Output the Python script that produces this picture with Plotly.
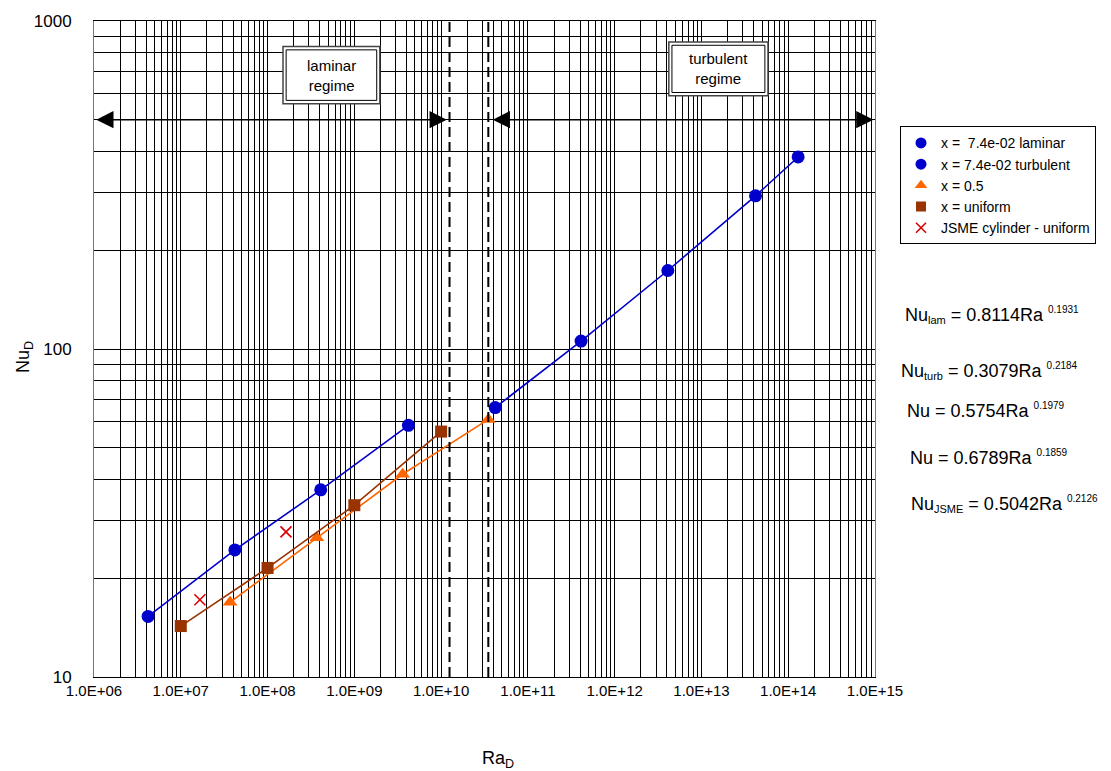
import numpy as np
import plotly.graph_objects as go

# Measured Nusselt numbers vs Rayleigh number
ra_lam = [4.2e6, 4.2e7, 4.1e8, 4.2e9]
nu_lam = [15.3, 24.4, 37.2, 58.5]
ra_turb = [4.2e10, 4.1e11, 4.1e12, 4.2e13, 1.3e14]
nu_turb = [66.3, 105.7, 173.5, 293.0, 385.0]
ra_half = [3.7e7, 3.7e8, 3.6e9, 3.5e10]
nu_half = [16.9, 26.6, 41.5, 61.0]
ra_unif = [1.0e7, 1.0e8, 1.0e9, 1.0e10]
nu_unif = [14.3, 21.5, 33.4, 56.0]
ra_jsme = [1.66e7, 1.63e8]
nu_jsme = [17.2, 27.7]

# Regime boundaries and arrow level
ra_laminar_limit = 1.25e10
ra_turbulent_start = 3.5e10
nu_arrow = 500

x_tick_vals = [1e6, 1e7, 1e8, 1e9, 1e10, 1e11, 1e12, 1e13, 1e14, 1e15]
x_tick_text = ["1.0E+06", "1.0E+07", "1.0E+08", "1.0E+09", "1.0E+10",
               "1.0E+11", "1.0E+12", "1.0E+13", "1.0E+14", "1.0E+15"]
y_tick_vals = [10, 100, 1000]
y_tick_text = ["10", "100", "1000"]

correlations = [
    "Nu<sub><span style='font-size:11px'>lam</span></sub> = 0.8114Ra <sup><span style='font-size:10px'>0.1931</span></sup>",
    "Nu<sub><span style='font-size:11px'>turb</span></sub> = 0.3079Ra <sup><span style='font-size:10px'>0.2184</span></sup>",
    "Nu = 0.5754Ra <sup><span style='font-size:10px'>0.1979</span></sup>",
    "Nu = 0.6789Ra <sup><span style='font-size:10px'>0.1859</span></sup>",
    "Nu<sub><span style='font-size:11px'>JSME</span></sub> = 0.5042Ra <sup><span style='font-size:10px'>0.2126</span></sup>",
]

BLUE = "#0000CC"
ORANGE = "#FF6600"
BROWN = "#993300"
RED = "#DD0000"
FONT = "Liberation Sans, Arial, sans-serif"

fig = go.Figure()

# Data series (lines + markers), legend drawn by marker-only entries below
series = [
    (ra_lam, nu_lam, BLUE, "circle", 13),
    (ra_turb, nu_turb, BLUE, "circle", 13),
    (ra_half, nu_half, ORANGE, "triangle-up", 13),
    (ra_unif, nu_unif, BROWN, "square", 12),
]
for xs, ys, col, sym, sz in series:
    fig.add_trace(go.Scatter(x=xs, y=ys, mode="lines+markers",
                             line=dict(color=col, width=1.6),
                             marker=dict(color=col, symbol=sym, size=sz),
                             showlegend=False, hoverinfo="skip"))
fig.add_trace(go.Scatter(x=ra_jsme, y=nu_jsme, mode="markers",
                         marker=dict(color=RED, symbol="x-thin", size=11,
                                     line=dict(color=RED, width=1.6)),
                         showlegend=False))

legend_entries = [
    ("x =  7.4e-02 laminar", BLUE, "circle", 11, None),
    ("x = 7.4e-02 turbulent", BLUE, "circle", 11, None),
    ("x = 0.5", ORANGE, "triangle-up", 11, None),
    ("x = uniform", BROWN, "square", 10, None),
    ("JSME cylinder - uniform", RED, "x-thin", 10, dict(color=RED, width=1.6)),
]
for name, col, sym, sz, ln in legend_entries:
    mk = dict(color=col, symbol=sym, size=sz)
    if ln:
        mk["line"] = ln
    fig.add_trace(go.Scatter(x=[None], y=[None], mode="markers", name=name,
                             marker=mk, showlegend=True))

# Regime boundary lines
for xb in [ra_laminar_limit, ra_turbulent_start]:
    fig.add_trace(go.Scatter(x=[xb, xb], y=[10, 1000], mode="lines",
                             line=dict(color="black", width=2, dash="10px,5px"),
                             showlegend=False, hoverinfo="skip"))

# Double-headed regime arrows
arrow_spans = [(1.02e6, ra_laminar_limit * 0.93), (ra_turbulent_start * 1.08, 0.96e15)]
for x0, x1 in arrow_spans:
    fig.add_annotation(x=np.log10(x1), y=np.log10(nu_arrow), ax=np.log10(x0), ay=np.log10(nu_arrow),
                       xref="x", yref="y", axref="x", ayref="y", text="",
                       showarrow=True, arrowhead=2, arrowside="end+start",
                       arrowsize=2.3, arrowwidth=1.5, arrowcolor="black")

# Regime label boxes (double frame)
boxes = [((0.242, 0.366), (0.874, 0.961), "laminar<br>regime"),
         ((0.736, 0.863), (0.886, 0.968), "turbulent<br>regime")]
for (bx0, bx1), (by0, by1), label in boxes:
    fig.add_shape(type="rect", xref="paper", yref="paper", x0=bx0, x1=bx1, y0=by0, y1=by1,
                  line=dict(color="#444", width=1.5), fillcolor="white", layer="above")
    fig.add_shape(type="rect", xref="paper", yref="paper",
                  x0=bx0 + 0.004, x1=bx1 - 0.004, y0=by0 + 0.005, y1=by1 - 0.005,
                  line=dict(color="black", width=1), fillcolor="white", layer="above")
    fig.add_annotation(xref="paper", yref="paper", x=(bx0 + bx1) / 2, y=(by0 + by1) / 2,
                       xanchor="center", yanchor="middle",
                       text=label, showarrow=False, font=dict(size=15, color="black", family=FONT))

# Correlation labels
corr_pos = [(903, 313), (899, 369), (905, 409), (908, 456), (909, 503)]
for txt, (px, py) in zip(correlations, corr_pos):
    fig.add_annotation(xref="paper", yref="paper", x=(px - 94) / 781, y=(677 - py) / 660,
                       xanchor="left", yanchor="middle", text=txt, showarrow=False,
                       font=dict(size=18, color="black", family=FONT))

# Axis titles
fig.add_annotation(xref="paper", yref="paper", x=(498 - 94) / 781, y=(677 - 760) / 660,
                   xanchor="center", yanchor="middle",
                   text="Ra<sub>D</sub>", showarrow=False,
                   font=dict(size=18, color="black", family=FONT))
fig.add_annotation(xref="paper", yref="paper", x=(25 - 94) / 781, y=(677 - 355) / 660,
                   xanchor="center", yanchor="middle",
                   text="Nu<sub>D</sub>", textangle=-90, showarrow=False,
                   font=dict(size=18, color="black", family=FONT))

fig.update_xaxes(type="log", range=[6, 15], tickvals=x_tick_vals, ticktext=x_tick_text,
                 showgrid=True, gridcolor="black", gridwidth=1,
                 minor=dict(dtick="D1", showgrid=True, gridcolor="black", gridwidth=1),
                 showline=True, linecolor="black", linewidth=1, mirror=True,
                 ticks="", zeroline=False,
                 tickfont=dict(size=15, color="black", family=FONT))
fig.update_yaxes(type="log", range=[1, 3], tickvals=y_tick_vals, ticktext=y_tick_text,
                 showgrid=True, gridcolor="black", gridwidth=1,
                 minor=dict(dtick="D1", showgrid=True, gridcolor="black", gridwidth=1),
                 showline=True, linecolor="#777", linewidth=1, mirror=True,
                 ticks="", zeroline=False, ticklabelstandoff=18,
                 tickfont=dict(size=17, color="black", family=FONT))

fig.update_layout(
    width=1111, height=771,
    margin=dict(l=94, r=236, t=17, b=94),
    paper_bgcolor="white", plot_bgcolor="white",
    font=dict(family=FONT, color="black"),
    legend=dict(x=(900 - 94) / 781, y=(677 - 123) / 660, xanchor="left", yanchor="top",
                bordercolor="black", borderwidth=1, bgcolor="white",
                font=dict(size=14, color="black", family=FONT),
                itemwidth=30, tracegroupgap=0),
)

fig.write_html("out.html")
